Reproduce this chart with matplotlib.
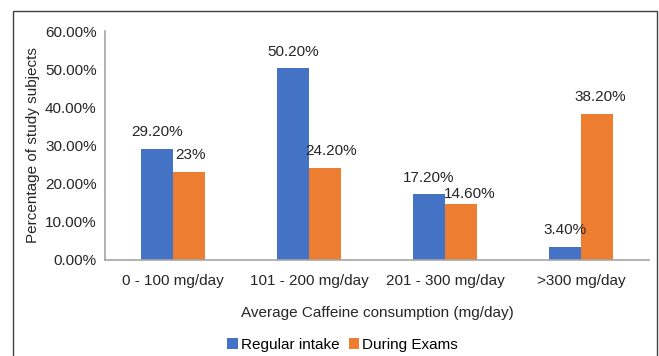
import matplotlib.pyplot as plt
import numpy as np
from matplotlib.patches import Rectangle
from matplotlib.ticker import FuncFormatter

plt.rcParams['font.family'] = ['Liberation Sans', 'DejaVu Sans']

# data
categories = ['0 - 100 mg/day', '101 - 200 mg/day', '201 - 300 mg/day', '>300 mg/day']
regular = [29.2, 50.2, 17.2, 3.4]
exams = [23.0, 24.2, 14.6, 38.2]
regular_labels = ['29.20%', '50.20%', '17.20%', '3.40%']
exams_labels = ['23%', '24.20%', '14.60%', '38.20%']

blue = '#4472C4'
orange = '#ED7D31'

fig = plt.figure(figsize=(6.59, 3.56), dpi=100)
ax = fig.add_axes([0.1593, 0.2697, 0.8257, 0.6432])

x = np.arange(len(categories))
w = 0.235
b1 = ax.bar(x - w/2, regular, w, color=blue, label='Regular intake')
b2 = ax.bar(x + w/2, exams, w, color=orange, label='During Exams')

# label offsets (points) roughly like the excel placement
reg_off = [(0, 7), (0, 7), (0, 7), (0, 7)]
exm_off = [(1, 7), (4, 7), (6, 2), (2, 7)]
for bars, labs, offs in [(b1, regular_labels, reg_off), (b2, exams_labels, exm_off)]:
    for bar, lab, off in zip(bars, labs, offs):
        ax.annotate(lab, (bar.get_x() + bar.get_width()/2, bar.get_height()),
                    xytext=off, textcoords='offset points',
                    ha='center', va='bottom', fontsize=11, color='#262626')

ax.set_xlim(-0.5, len(categories) - 0.5)
ax.set_ylim(0, 60)
ax.set_yticks(np.arange(0, 61, 10))
ax.yaxis.set_major_formatter(FuncFormatter(lambda v, p: '%.2f%%' % v))
ax.set_xticks(x)
ax.set_xticklabels(categories)
ax.tick_params(length=0, labelsize=11, colors='#262626', pad=6)
ax.tick_params(axis='x', pad=10)
for s in ['top', 'right']:
    ax.spines[s].set_visible(False)
for s in ['left', 'bottom']:
    ax.spines[s].set_color('#a6a6a6')
    ax.spines[s].set_linewidth(1.2)

ax.set_xlabel('Average Caffeine consumption (mg/day)', fontsize=11, color='#262626', labelpad=13)
ax.set_ylabel('Percentage of study subjects', fontsize=11, color='#262626')
ax.yaxis.set_label_coords(-0.12, 0.5)

fig.legend(handles=[b1, b2], loc='center', bbox_to_anchor=(0.52, 0.032), ncol=2,
           frameon=False, fontsize=11, handlelength=0.7, handleheight=0.7,
           handletextpad=0.2, columnspacing=0.6)

fig.patches.append(Rectangle((13/659, -0.05), 644/659, 1.019, transform=fig.transFigure,
                             fill=False, edgecolor='#404040', linewidth=1.0))

fig.savefig('out.png', dpi=100)
